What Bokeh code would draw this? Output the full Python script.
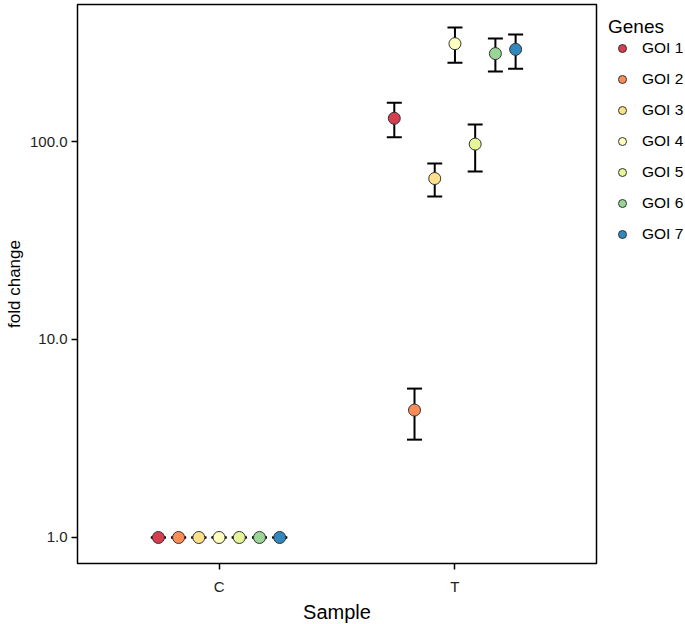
from bokeh.plotting import figure
from bokeh.models import (ColumnDataSource, FactorRange, Range1d, FixedTicker,
                          PrintfTickFormatter, Whisker, TeeHead, Legend, LegendItem)
from bokeh.transform import dodge
from bokeh.embed import file_html
from bokeh.resources import INLINE

samples = ["C", "T"]
genes = ["GOI 1", "GOI 2", "GOI 3", "GOI 4", "GOI 5", "GOI 6", "GOI 7"]
colors = ["#D53E4F", "#FC8D59", "#FEE08B", "#FFFFBF", "#E6F598", "#99D594", "#3288BD"]

fc_C = [1.0, 1.0, 1.0, 1.0, 1.0, 1.0, 1.0]
upper_C = [1.0, 1.0, 1.0, 1.0, 1.0, 1.0, 1.0]
lower_C = [1.0, 1.0, 1.0, 1.0, 1.0, 1.0, 1.0]

fc_T = [131.0, 4.4, 65.0, 312.0, 97.0, 278.0, 292.0]
upper_T = [157.0, 5.65, 77.4, 376.0, 122.0, 331.0, 347.0]
lower_T = [105.0, 3.12, 52.7, 250.0, 70.5, 226.0, 233.0]

y_ticks = [1, 10, 100]

FONT = "Liberation Sans"

p = figure(frame_width=519, frame_height=559, output_backend="svg", toolbar_location=None,
           x_range=FactorRange(factors=samples, range_padding=0.1, range_padding_units="absolute"),
           y_axis_type="log", y_range=Range1d(0.739, 492),
           min_border_left=77, min_border_right=0, min_border_top=4, min_border_bottom=61)

p.grid.visible = False
p.outline_line_color = "black"
p.outline_line_width = 1.5
p.background_fill_color = "white"

dodge_w = 0.6 / 7
items = []
for i, g in enumerate(genes):
    off = (i - 3) * dodge_w
    src = ColumnDataSource(dict(sample=samples,
                                fc=[fc_C[i], fc_T[i]],
                                upper=[upper_C[i], upper_T[i]],
                                lower=[lower_C[i], lower_T[i]]))
    w = Whisker(base=dodge("sample", off, range=p.x_range), upper="upper", lower="lower",
                source=src, line_color="black", line_width=2,
                upper_head=TeeHead(size=15, line_width=2, line_color="black"),
                lower_head=TeeHead(size=15, line_width=2, line_color="black"))
    p.add_layout(w)
    r = p.scatter(x=dodge("sample", off, range=p.x_range), y="fc", source=src, size=12,
                  fill_color=colors[i], line_color="#333333", line_width=1)
    items.append(LegendItem(label=g, renderers=[r]))

legend = Legend(items=items, location="top_left", title="Genes",
                title_text_font=FONT, title_text_font_size="19px", title_text_font_style="normal",
                title_text_color="black", title_standoff=0,
                label_text_font=FONT, label_text_font_size="15.5px", label_text_color="black",
                label_standoff=6, glyph_width=28, glyph_height=20, label_height=20,
                spacing=11, padding=8, margin=12, border_line_color=None,
                background_fill_alpha=0)
p.add_layout(legend, "right")

p.yaxis.ticker = FixedTicker(ticks=y_ticks, minor_ticks=[])
p.yaxis.formatter = PrintfTickFormatter(format="%.1f")

for ax in (p.xaxis, p.yaxis):
    ax.axis_line_color = None
    ax.major_tick_line_color = "black"
    ax.major_tick_line_width = 1.5
    ax.major_tick_out = 6
    ax.major_tick_in = 0
    ax.minor_tick_line_color = None
    ax.major_label_text_font = FONT
    ax.major_label_text_font_size = "15px"
    ax.major_label_text_color = "#222222"
    ax.axis_label_text_font = FONT
    ax.axis_label_text_font_style = "normal"
    ax.axis_label_text_color = "black"

p.xaxis.axis_label = "Sample"
p.yaxis.axis_label = "fold change"
p.xaxis.axis_label_text_font_size = "20px"
p.yaxis.axis_label_text_font_size = "17px"
p.xaxis.major_label_standoff = 8
p.xaxis.axis_label_standoff = 3
p.yaxis.major_label_standoff = 4
p.yaxis.axis_label_standoff = 3

open("out.html", "w").write(file_html(p, INLINE))
